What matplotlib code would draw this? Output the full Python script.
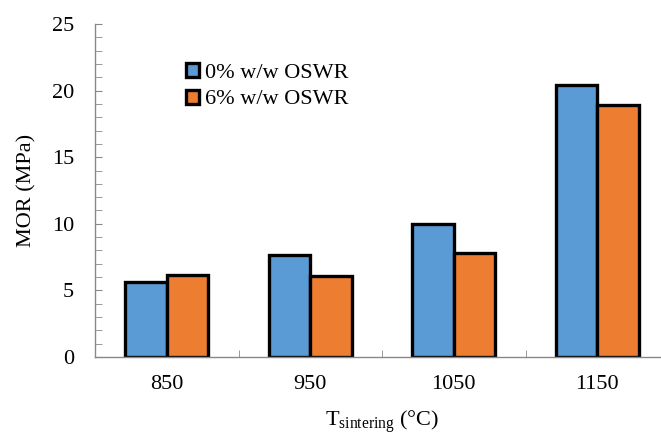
import matplotlib.pyplot as plt
import numpy as np

plt.rcParams['font.family'] = ['Liberation Serif', 'DejaVu Serif']

temps = ['850', '950', '1050', '1150']
mor_0 = [5.65, 7.65, 10.0, 20.4]
mor_6 = [6.15, 6.1, 7.8, 18.9]
series_names = ['0% w/w OSWR', '6% w/w OSWR']

fig = plt.figure(figsize=(6.61, 4.36), dpi=100)
ax = fig.add_axes([95 / 661, 79 / 436, 574 / 661, 333 / 436])

x = np.arange(len(temps))
w = 0.29
ax.bar(x - w / 2, mor_0, w, color='#5B9BD5', edgecolor='black', linewidth=2.4, label=series_names[0])
ax.bar(x + w / 2, mor_6, w, color='#ED7D31', edgecolor='black', linewidth=2.4, label=series_names[1])

ax.set_xlim(-0.5, 3.5)
ax.set_ylim(0, 25)
ax.set_yticks(np.arange(0, 26, 5))
ax.set_yticks(np.arange(0, 26, 1), minor=True)
ax.set_xticks(x)
ax.set_xticklabels(temps)
ax.set_xticks([0.5, 1.5, 2.5], minor=True)

for s in ['top', 'right']:
    ax.spines[s].set_visible(False)
for s in ['left', 'bottom']:
    ax.spines[s].set_color('#888888')
    ax.spines[s].set_linewidth(1.0)

fs = 16
ax.tick_params(axis='y', which='both', direction='in', length=5, color='#888888', labelsize=fs, pad=15)
ax.tick_params(axis='x', which='major', length=0, labelsize=fs, pad=13)
ax.tick_params(axis='x', which='minor', direction='in', length=5, color='#888888')

ax.set_ylabel('MOR (MPa)', fontsize=fs, labelpad=11)
ax.set_xlabel(r'T$_{\mathregular{sintering}}$ (°C)', fontsize=fs, labelpad=11)

ax.legend(loc='upper left', bbox_to_anchor=(186 / 661, 1 - 63 / 436), bbox_transform=fig.transFigure,
          frameon=False, fontsize=fs, handlelength=0.6, handleheight=0.6, handletextpad=0.25,
          labelspacing=0.3, borderaxespad=0, borderpad=0)

fig.savefig('out.png', dpi=100)
